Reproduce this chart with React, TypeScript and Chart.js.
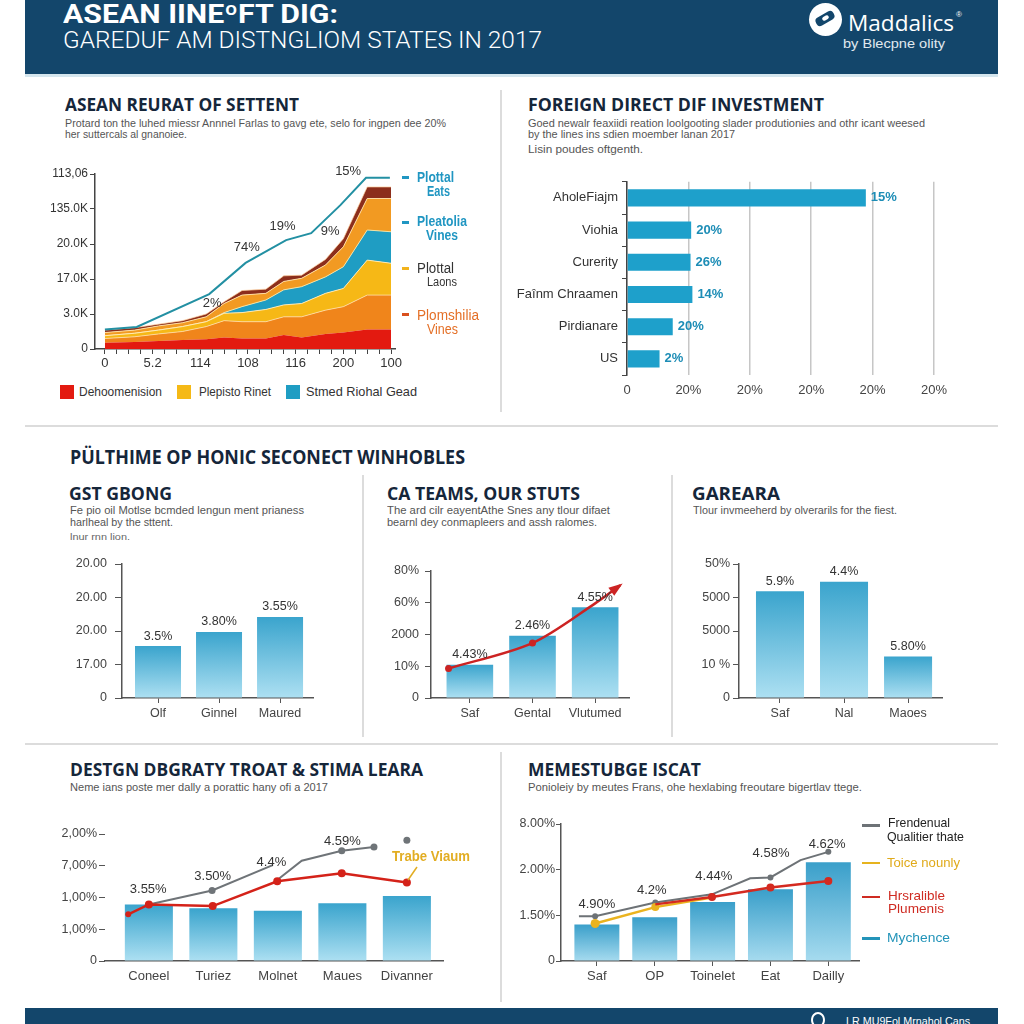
import React, { useEffect, useLayoutEffect, useRef } from 'react';
import { Chart, registerables } from 'chart.js';

Chart.register(...registerables);

const SANS = "'Liberation Sans', Arial, sans-serif";
const HEAD = "'Open Sans', 'Liberation Sans', sans-serif";
Chart.defaults.font.family = SANS;
Chart.defaults.color = '#333';

/* ================= DATA ================= */
// ASEAN REURAT OF SETTENT – stacked areas and trend line
const areaX = [0, 2.5, 4.5, 6.5, 8.5, 10, 11.5, 13.5, 15, 16.5, 18.5, 20, 22, 24];
const areaRed = [0.18, 0.2, 0.23, 0.26, 0.28, 0.33, 0.3, 0.3, 0.4, 0.33, 0.43, 0.47, 0.56, 0.56];
const areaOrange = [0.12, 0.15, 0.2, 0.24, 0.36, 0.48, 0.48, 0.48, 0.52, 0.59, 0.68, 0.74, 0.98, 0.98];
const areaYellow = [0.08, 0.1, 0.11, 0.14, 0.14, 0.21, 0.26, 0.35, 0.34, 0.38, 0.48, 0.52, 1.0, 0.91];
const areaTeal = [0, 0, 0, 0, 0, 0.02, 0.17, 0.27, 0.43, 0.48, 0.47, 0.62, 0.86, 0.9];
const areaAmber = [0.09, 0.09, 0.12, 0.11, 0.14, 0.26, 0.33, 0.19, 0.24, 0.24, 0.34, 0.57, 0.9, 0.95];
const areaBrown = [0.07, 0.07, 0.05, 0.06, 0.08, 0.05, 0.13, 0.12, 0.16, 0.09, 0.16, 0.23, 0.33, 0.33];
const areaLineX = [0, 2.67, 8.75, 11.8, 15.2, 17.3, 19.75, 21.9, 23.9];
const areaLineY = [0.56, 0.63, 1.57, 2.46, 3.11, 3.31, 4.11, 4.89, 4.89];
const areaYTicks = ['0', '3.0K', '17.0K', '20.0K', '135.0K', '113,06'];
const areaXTicks = ['0', '5.2', '114', '108', '116', '200', '100'];
const areaNotes = ['2%', '74%', '19%', '9%', '15%'];
const areaNoteX = [9, 11.9, 14.9, 18.9, 20.4];
const areaNoteY = [1.31, 2.89, 3.49, 3.37, 5.06];
const areaLegend = ['Dehoomenision', 'Plepisto Rinet', 'Stmed Riohal Gead'];

// FOREIGN DIRECT DIF INVESTMENT
const fdiCats = ['AholeFiajm', 'Viohia', 'Curerity', 'Faînm Chraamen', 'Pirdianare', 'US'];
const fdiVals = [77.8, 20.9, 20.7, 21.3, 14.9, 10.6];
const fdiLabels = ['15%', '20%', '26%', '14%', '20%', '2%'];
const fdiTicks = ['0', '20%', '20%', '20%', '20%', '20%'];

// GST GBONG
const gstCats = ['Olf', 'Ginnel', 'Maured'];
const gstVals = [1.55, 1.97, 2.42];
const gstLabels = ['3.5%', '3.80%', '3.55%'];
const gstTicks = ['0', '17.00', '20.00', '20.00', '20.00'];

// CA TEAMS, OUR STUTS
const caCats = ['Saf', 'Gental', 'Vlutumed'];
const caVals = [1.05, 1.96, 2.86];
const caLabels = ['4.43%', '2.46%', '4.55%'];
const caTrendX = [-0.34, 1, 2, 2.4];
const caTrendY = [0.93, 1.73, 2.98, 3.55];
const caTicks = ['0', '10%', '2000', '60%', '80%'];

// GAREARA
const garCats = ['Saf', 'Nal', 'Maoes'];
const garVals = [3.19, 3.47, 1.24];
const garLabels = ['5.9%', '4.4%', '5.80%'];
const garTicks = ['0', '10 %', '5000', '5000', '50%'];

// DESTGN DBGRATY TROAT & STIMA LEARA
const dsgCats = ['Coneel', 'Turiez', 'Molnet', 'Maues', 'Divanner'];
const dsgBars = [1.78, 1.66, 1.58, 1.82, 2.05];
const dsgGrayX = [0, 0.98, 1.92, 1.95, 1.99, 2.37, 2.99, 3.49, 3.75, 4.0];
const dsgGrayY = [1.78, 2.22, 3.02, null, 2.55, 3.16, 3.47, 3.59, null, 3.8];
const dsgRedX = [-0.32, 0, 0.99, 1.99, 2.99, 4.0];
const dsgRedY = [1.47, 1.78, 1.73, 2.51, 2.76, 2.47];
const dsgNotes = ['3.55%', '3.50%', '4.4%', '4.59%'];
const dsgNoteX = [-0.01, 0.99, 1.9, 3.0];
const dsgNoteY = [2.27, 2.66, 3.1, 3.78];
const dsgTicks = ['0', '1,00%', '1,00%', '7,00%', '2,00%'];

// MEMESTUBGE ISCAT
const memCats = ['Saf', 'OP', 'Toinelet', 'Eat', 'Dailly'];
const memBars = [0.8, 0.96, 1.29, 1.57, 2.16];
const memGrayX = [-0.31, -0.03, 1.01, 1.99, 2.65, 3.0, 3.52, 4.0];
const memGrayY = [0.98, 0.98, 1.28, 1.46, 1.81, 1.83, 2.21, 2.39];
const memYellowX = [-0.03, 1.01, 1.99];
const memYellowY = [0.82, 1.18, 1.39];
const memRedX = [1.01, 1.99, 3.0, 4.0];
const memRedY = [1.24, 1.4, 1.61, 1.75];
const memNotes = ['4.90%', '4.2%', '4.44%', '4.58%', '4.62%'];
const memNoteX = [0.0, 0.95, 2.02, 3.01, 3.98];
const memNoteY = [1.24, 1.55, 1.86, 2.36, 2.55];
const memTicks = ['0', '1.50%', '2.00%', '8.00%'];
const memLegend = ['Frendenual', 'Qualitier thate', 'Toice nounly', 'Hrsralible', 'Plumenis', 'Mychence'];

/* ================= HELPERS ================= */
type Box = { left: number; top: number; width: number; height: number };
function plotBox(L: number, R: number, T: number, B: number, yW: number, xH: number, pt: number, pr: number): Box {
  return { left: L - yW, top: T - pt, width: R + pr - (L - yW), height: B + xH - (T - pt) };
}

function pts(xs: number[], ys: (number | null)[]) {
  return xs.map((x, i) => ({ x, y: ys[i] }));
}

function baseOptions(pt: number, pr: number): any {
  return {
    responsive: false,
    animation: false,
    events: [],
    layout: { padding: { top: pt, right: pr, left: 0, bottom: 0 } },
    plugins: { legend: { display: false }, tooltip: { enabled: false }, title: { display: false } },
  };
}

function gradFill(top: string, bottom: string) {
  return (ctx: any) => {
    const ch = ctx.chart;
    const sy = ch.scales && ch.scales.y;
    if (!ch.chartArea || !sy || !ctx.parsed) return top;
    const y0 = sy.getPixelForValue(0);
    const y1 = sy.getPixelForValue(ctx.parsed.y);
    if (!isFinite(y0) || !isFinite(y1) || y0 === y1) return top;
    const g = ch.ctx.createLinearGradient(0, y1, 0, y0);
    g.addColorStop(0, top);
    g.addColorStop(1, bottom);
    return g;
  };
}

function catAxis(cats: string[], min: number, max: number, xH: number, tickLen: number, fontSize: number) {
  return {
    type: 'linear',
    min,
    max,
    offset: false,
    afterBuildTicks: (s: any) => {
      s.ticks = cats.map((_, i) => ({ value: i }));
    },
    ticks: {
      autoSkip: false,
      maxRotation: 0,
      callback: (v: number) => cats[Math.round(v)] ?? '',
      color: '#444',
      font: { size: fontSize },
      padding: tickLen > 0 ? 3 : 8,
    },
    grid: { display: true, offset: false, drawOnChartArea: false, drawTicks: tickLen > 0, tickLength: tickLen, color: '#555' },
    border: { display: true, color: '#555', width: 1.5 },
    afterFit: (s: any) => {
      s.height = xH;
    },
  };
}

function valAxis(labels: string[], yW: number, tickLen: number, pad: number, showBorder: boolean) {
  return {
    type: 'linear',
    min: 0,
    max: labels.length - 1,
    ticks: {
      stepSize: 1,
      callback: (v: number) => labels[Math.round(v)] ?? '',
      color: '#444',
      font: { size: 12.5 },
      padding: pad,
    },
    grid: { display: true, drawOnChartArea: false, drawTicks: true, tickLength: tickLen, color: '#555' },
    border: { display: showBorder, color: '#555', width: 1.5 },
    afterFit: (s: any) => {
      s.width = yW;
    },
  };
}

function notesPlugin(id: string, texts: string[], xs: number[], ys: number[], font: string, color: string) {
  return {
    id,
    afterDatasetsDraw(chart: any) {
      const c = chart.ctx;
      const sx = chart.scales.x;
      const sy = chart.scales.y;
      c.save();
      c.font = font;
      c.fillStyle = color;
      c.textAlign = 'center';
      c.textBaseline = 'middle';
      texts.forEach((t, i) => c.fillText(t, sx.getPixelForValue(xs[i]), sy.getPixelForValue(ys[i])));
      c.restore();
    },
  };
}

function barLabelPlugin(id: string, dsIndex: number, texts: string[], font: string, color: string, horizontal: boolean, gap: number) {
  return {
    id,
    afterDatasetsDraw(chart: any) {
      const c = chart.ctx;
      const meta = chart.getDatasetMeta(dsIndex);
      c.save();
      c.font = font;
      c.fillStyle = color;
      c.textBaseline = 'middle';
      c.textAlign = horizontal ? 'left' : 'center';
      meta.data.forEach((el: any, i: number) => {
        if (horizontal) c.fillText(texts[i], el.x + gap, el.y);
        else c.fillText(texts[i], el.x, el.y - gap);
      });
      c.restore();
    },
  };
}

function arrowPlugin(id: string, dsIndex: number, color: string, len: number, half: number) {
  return {
    id,
    afterDatasetsDraw(chart: any) {
      const meta = chart.getDatasetMeta(dsIndex);
      const n = meta.data.length;
      if (n < 2) return;
      const p = meta.data[n - 1];
      const q = meta.data[n - 2];
      let bx = p.cp1x ?? q.x;
      let by = p.cp1y ?? q.y;
      if (Math.hypot(p.x - bx, p.y - by) < 1) {
        bx = q.x;
        by = q.y;
      }
      const a = Math.atan2(p.y - by, p.x - bx);
      const c = chart.ctx;
      c.save();
      c.fillStyle = color;
      c.beginPath();
      c.moveTo(p.x + Math.cos(a) * 3, p.y + Math.sin(a) * 3);
      c.lineTo(p.x - Math.cos(a) * len + Math.sin(a) * half, p.y - Math.sin(a) * len - Math.cos(a) * half);
      c.lineTo(p.x - Math.cos(a) * len - Math.sin(a) * half, p.y - Math.sin(a) * len + Math.cos(a) * half);
      c.closePath();
      c.fill();
      c.restore();
    },
  };
}

function ChartCanvas({ box, make }: { box: Box; make: () => any }) {
  const ref = useRef<HTMLCanvasElement>(null);
  useEffect(() => {
    const chart = new Chart(ref.current as HTMLCanvasElement, make());
    return () => chart.destroy();
  }, []);
  return (
    <canvas
      ref={ref}
      width={box.width}
      height={box.height}
      style={{ position: 'absolute', left: box.left, top: box.top, width: box.width, height: box.height }}
    />
  );
}

function Txt({ x, y, s, size, weight = 400, color = '#333', family = SANS, w }: any) {
  const ref = useRef<HTMLDivElement>(null);
  useLayoutEffect(() => {
    const el = ref.current;
    if (!el || !w) return;
    el.style.transform = 'none';
    const nat = el.getBoundingClientRect().width;
    if (nat > 0) el.style.transform = `scaleX(${w / nat})`;
  }, [w, s]);
  const lh = Math.round(size * 1.25);
  return (
    <div
      ref={ref}
      style={{
        position: 'absolute',
        left: x,
        top: y - lh / 2,
        fontSize: size,
        lineHeight: `${lh}px`,
        fontWeight: weight,
        color,
        fontFamily: family,
        whiteSpace: 'nowrap',
        transformOrigin: '0 50%',
      }}
    >
      {s}
    </div>
  );
}

function Rect({ x, y, w, h, c, r = 0 }: any) {
  return <div style={{ position: 'absolute', left: x, top: y, width: w, height: h, background: c, borderRadius: r }} />;
}

/* ================= CHART CONFIGS ================= */
const BAR_TOP = '#3aa4cd';
const BAR_BOT = '#ade0f2';

function areaConfig() {
  const layers = [areaRed, areaOrange, areaYellow, areaTeal, areaAmber, areaBrown];
  const fills = ['#e31a10', '#f0851b', '#f6b816', '#1f9dc3', '#f29a22', '#8c2e1c'];
  const edges = ['rgba(0,0,0,0)', 'rgba(255,225,170,0.8)', 'rgba(255,236,190,0.9)', 'rgba(255,230,160,0.9)', 'rgba(255,226,170,0.9)', 'rgba(255,210,160,0.7)'];
  const datasets: any[] = [
    {
      type: 'line',
      stack: 'trend',
      data: pts(areaLineX, areaLineY),
      borderColor: '#2390a3',
      borderWidth: 2,
      pointRadius: 0,
      fill: false,
      tension: 0,
    },
  ];
  layers.forEach((arr, k) => {
    datasets.push({
      type: 'line',
      stack: 'area',
      data: pts(areaX, arr),
      backgroundColor: fills[k],
      borderColor: edges[k],
      borderWidth: 1,
      pointRadius: 0,
      fill: k === 0 ? 'origin' : '-1',
      tension: 0,
    });
  });
  const opts = baseOptions(14, 6);
  opts.scales = {
    x: {
      type: 'linear',
      min: -0.83,
      max: 24.4,
      offset: false,
      afterBuildTicks: (s: any) => {
        s.ticks = Array.from({ length: 25 }, (_, i) => ({ value: i }));
      },
      ticks: {
        autoSkip: false,
        maxRotation: 0,
        callback: (v: number) => (Math.round(v) % 4 === 0 ? areaXTicks[Math.round(v) / 4] : ''),
        color: '#333',
        font: { size: 13 },
        padding: 2,
      },
      grid: { display: true, drawOnChartArea: false, drawTicks: true, tickLength: 5, color: '#444' },
      border: { display: true, color: '#444', width: 1.5 },
      afterFit: (s: any) => {
        s.height = 22;
      },
    },
    y: {
      type: 'linear',
      stacked: true,
      min: 0,
      max: 5,
      ticks: { stepSize: 1, callback: (v: number) => areaYTicks[Math.round(v)] ?? '', color: '#333', font: { size: 12 }, padding: 2 },
      grid: { display: true, drawOnChartArea: false, drawTicks: true, tickLength: 5, color: '#444' },
      border: { display: true, color: '#444', width: 1.5 },
      afterFit: (s: any) => {
        s.width = 45;
      },
    },
  };
  return {
    type: 'line',
    data: { datasets },
    options: opts,
    plugins: [notesPlugin('areaNotes', areaNotes, areaNoteX, areaNoteY, `13px ${SANS}`, '#333')],
  };
}

function fdiConfig() {
  const opts = baseOptions(5, 30);
  opts.indexAxis = 'y';
  opts.scales = {
    x: {
      type: 'linear',
      min: 0,
      max: 100,
      ticks: { stepSize: 20, callback: (_v: number, i: number) => fdiTicks[i] ?? '', color: '#444', font: { size: 13 }, padding: 8 },
      grid: { display: true, drawTicks: false, color: '#c6c6c6', lineWidth: 1.5 },
      border: { display: false },
      afterFit: (s: any) => {
        s.height = 25;
      },
    },
    y: {
      ticks: { color: '#333', font: { size: 13 }, padding: 4 },
      grid: { display: true, offset: true, drawOnChartArea: false, drawTicks: true, tickLength: 5, color: '#444' },
      border: { display: true, color: '#444', width: 1.5 },
      afterFit: (s: any) => {
        s.width = 120;
      },
    },
  };
  return {
    type: 'bar',
    data: {
      labels: fdiCats,
      datasets: [{ data: fdiVals, backgroundColor: '#1ea0cb', barPercentage: 0.53, categoryPercentage: 1 }],
    },
    options: opts,
    plugins: [barLabelPlugin('fdiLabels', 0, fdiLabels, `bold 13px ${SANS}`, '#1d8db6', true, 5)],
  };
}

function simpleBarConfig(cats: string[], vals: number[], labels: string[], ticks: string[], min: number, max: number, barPct: number, yW: number, tickLen: number, pad: number, extra: any[], extraPlugins: any[]) {
  const opts = baseOptions(17, 8);
  opts.scales = {
    x: catAxis(cats, min, max, 26, 5, 12.5),
    y: valAxis(ticks, yW, tickLen, pad, true),
  };
  return {
    type: 'bar',
    data: {
      datasets: [
        ...extra,
        {
          type: 'bar',
          order: 10,
          data: pts(cats.map((_, i) => i), vals),
          backgroundColor: gradFill(BAR_TOP, BAR_BOT),
          barPercentage: barPct,
          categoryPercentage: 1,
        },
      ],
    },
    options: opts,
    plugins: [barLabelPlugin('lbl' + cats[0] + cats[1], extra.length, labels, `12.5px ${SANS}`, '#333', false, 10), ...extraPlugins],
  };
}

function dsgConfig() {
  const opts = baseOptions(12, 10);
  opts.scales = {
    x: catAxis(dsgCats, -0.68, 4.56, 28, 0, 13),
    y: valAxis(dsgTicks, 55, 6, 2, false),
  };
  return {
    type: 'bar',
    data: {
      datasets: [
        {
          type: 'line',
          order: 1,
          data: pts(dsgRedX, dsgRedY),
          borderColor: '#d42219',
          borderWidth: 2.5,
          pointRadius: [3, 4, 4, 4, 4, 4],
          pointBackgroundColor: '#d42219',
          pointBorderWidth: 0,
          fill: false,
          tension: 0,
        },
        {
          type: 'line',
          order: 2,
          data: pts(dsgGrayX, dsgGrayY),
          borderColor: '#6f7478',
          borderWidth: 2,
          pointRadius: [0, 3.5, 0, 0, 0, 0, 3.5, 3.5, 0, 3.5],
          pointBackgroundColor: '#6f7478',
          pointBorderWidth: 0,
          spanGaps: false,
          fill: false,
          tension: 0,
        },
        {
          type: 'bar',
          order: 10,
          data: pts(dsgCats.map((_, i) => i), dsgBars),
          backgroundColor: gradFill(BAR_TOP, BAR_BOT),
          barPercentage: 0.745,
          categoryPercentage: 1,
        },
      ],
    },
    options: opts,
    plugins: [notesPlugin('dsgNotes', dsgNotes, dsgNoteX, dsgNoteY, `13px ${SANS}`, '#333')],
  };
}

function memConfig() {
  const opts = baseOptions(12, 6);
  opts.scales = {
    x: catAxis(memCats, -0.62, 4.53, 28, 5, 13),
    y: valAxis(memTicks, 50, 5, 1, true),
  };
  const line = (xs: number[], ys: number[], color: string, w: number, radius: number[], order: number) => ({
    type: 'line',
    order,
    data: pts(xs, ys),
    borderColor: color,
    borderWidth: w,
    pointRadius: radius,
    pointBackgroundColor: color,
    pointBorderWidth: 0,
    fill: false,
    tension: 0,
  });
  return {
    type: 'bar',
    data: {
      datasets: [
        line(memRedX, memRedY, '#d42a20', 2.5, [0, 4, 4, 4], 1),
        line(memYellowX, memYellowY, '#eab31f', 2.5, [4.5, 4, 0], 2),
        line(memGrayX, memGrayY, '#6d7276', 2, [0, 3, 3, 0, 0, 3, 0, 3], 3),
        {
          type: 'bar',
          order: 10,
          data: pts(memCats.map((_, i) => i), memBars),
          backgroundColor: gradFill('#3a9fca', '#a6dbef'),
          barPercentage: 0.777,
          categoryPercentage: 1,
        },
      ],
    },
    options: opts,
    plugins: [notesPlugin('memNotes', memNotes, memNoteX, memNoteY, `13px ${SANS}`, '#333')],
  };
}

/* ================= BOXES ================= */
const boxArea = plotBox(95, 398, 174, 349, 45, 22, 14, 6);
const boxFdi = plotBox(627, 934, 175, 375, 120, 25, 5, 30);
const boxGst = plotBox(122, 313, 564, 698, 60, 26, 17, 8);
const boxCa = plotBox(431, 629, 571, 698, 60, 26, 17, 8);
const boxGar = plotBox(739, 942, 564, 698, 50, 26, 17, 8);
const boxDsg = plotBox(105, 443, 834, 961, 55, 28, 12, 10);
const boxMem = plotBox(561, 859, 824, 961, 50, 28, 12, 6);

const NAVY = '#13466b';
const TITLE = '#15263a';
const SUB = '#555';

export default function App() {
  return (
    <div style={{ position: 'absolute', left: 0, top: 0, width: 1024, height: 1024, background: '#fff', overflow: 'hidden', fontFamily: SANS }}>
      {/* header */}
      <Rect x={25} y={0} w={973} h={74} c={NAVY} />
      <Rect x={25} y={74} w={973} h={3} c="#d5e6ee" />
      <Txt x={63} y={14} s="ASEAN IINEºFT DIG:" size={26} weight={700} color="#fff" family="Roboto, sans-serif" w={275} />
      <Txt x={63} y={40} s="GAREDUF AM DISTNGLIOM STATES IN 2017" size={23} weight={300} color="#fff" family="Roboto, sans-serif" w={479} />
      <div style={{ position: 'absolute', left: 809, top: 3, width: 33, height: 33, borderRadius: '50%', background: '#fff' }} />
      <div style={{ position: 'absolute', left: 815, top: 14, width: 20, height: 9, borderRadius: 4, background: NAVY, transform: 'rotate(-30deg)' }} />
      <div style={{ position: 'absolute', left: 822, top: 16, width: 7, height: 4, borderRadius: 2, background: '#fff', transform: 'rotate(-30deg)' }} />
      <Txt x={848} y={22} s="Maddalics" size={22} color="#fff" family={HEAD} w={106} />
      <Txt x={956} y={15} s="®" size={8} color="#fff" />
      <Txt x={843} y={44} s="by Blecpne olity" size={13} color="#e0e9ef" w={102} />

      {/* dividers */}
      <Rect x={500} y={90} w={1.5} h={322} c="#dcdcdc" />
      <Rect x={25} y={425} w={973} h={1.5} c="#dcdcdc" />
      <Rect x={362} y={475} w={1.5} h={262} c="#dcdcdc" />
      <Rect x={671} y={475} w={1.5} h={262} c="#dcdcdc" />
      <Rect x={25} y={743} w={973} h={1.5} c="#dcdcdc" />
      <Rect x={500} y={752} w={1.5} h={250} c="#dcdcdc" />

      {/* section 1 left */}
      <Txt x={65} y={104} s="ASEAN REURAT OF SETTENT" size={17} weight={700} color={TITLE} family={HEAD} w={234} />
      <Txt x={65} y={123} s="Protard ton the luhed miessr Annnel Farlas to gavg ete, selo for ingpen dee 20%" size={11.5} color={SUB} w={381} />
      <Txt x={65} y={134} s="her suttercals al gnanoiee." size={11.5} color={SUB} w={122} />
      <ChartCanvas box={boxArea} make={areaConfig} />
      <Rect x={402} y={176} w={7} h={2.5} c="#2096c2" />
      <Txt x={417} y={177} s="Plottal" size={14} weight={600} color="#2096c2" w={37} />
      <Txt x={427} y={191} s="Eats" size={14} weight={600} color="#2096c2" w={23} />
      <Rect x={402} y={221} w={7} h={2.5} c="#2096c2" />
      <Txt x={417} y={221} s="Pleatolia" size={14} weight={600} color="#2096c2" w={50} />
      <Txt x={426} y={235} s="Vines" size={14} weight={600} color="#2096c2" w={32} />
      <Rect x={402} y={267} w={7} h={2.5} c="#f2b31c" />
      <Txt x={417} y={268} s="Plottal" size={14} color="#333" w={37} />
      <Txt x={427} y={282} s="Laons" size={12.5} color="#333" w={30} />
      <Rect x={402} y={313} w={7} h={2.5} c="#d9501e" />
      <Txt x={417} y={315} s="Plomshilia" size={14} color="#e46f26" w={62} />
      <Txt x={427} y={329} s="Vines" size={14} color="#e46f26" w={31} />
      <Rect x={60} y={385} w={14} h={14} c="#e31a10" />
      <Txt x={79} y={392} s={areaLegend[0]} size={13} color="#333" w={83} />
      <Rect x={177} y={385} w={14} h={14} c="#f5b916" />
      <Txt x={199} y={392} s={areaLegend[1]} size={13} color="#333" w={72} />
      <Rect x={286} y={385} w={14} h={14} c="#1f9dc3" />
      <Txt x={306} y={392} s={areaLegend[2]} size={13} color="#333" w={111} />

      {/* section 1 right */}
      <Txt x={528} y={104} s="FOREIGN DIRECT DIF INVESTMENT" size={17} weight={700} color={TITLE} family={HEAD} w={296} />
      <Txt x={528} y={123} s="Goed newalr feaxiidi reation loolgooting slader produtionies and othr icant weesed" size={11.5} color={SUB} w={397} />
      <Txt x={528} y={134} s="by the lines ins sdien moember lanan 2017" size={11.5} color={SUB} w={207} />
      <Txt x={528} y={149} s="Lisin poudes oftgenth." size={11.5} color={SUB} w={115} />
      <ChartCanvas box={boxFdi} make={fdiConfig} />

      {/* middle section */}
      <Txt x={70} y={457} s="PÜLTHIME OP HONIC SECONECT WINHOBLES" size={19} weight={700} color={TITLE} family={HEAD} w={395} />
      <Txt x={69} y={493} s="GST GBONG" size={18} weight={700} color={TITLE} family={HEAD} w={103} />
      <Txt x={70} y={510} s="Fe pio oil Motlse bcmded lengun ment prianess" size={11.5} color={SUB} w={234} />
      <Txt x={70} y={522} s="harlheal by the sttent." size={11.5} color={SUB} w={103} />
      <Txt x={70} y={537} s="lnur rnn lion." size={8.5} color="#666" w={60} />
      <ChartCanvas box={boxGst} make={() => simpleBarConfig(gstCats, gstVals, gstLabels, gstTicks, -0.59, 2.54, 0.754, 60, 7, 8, [], [])} />

      <Txt x={387} y={493} s="CA TEAMS, OUR STUTS" size={18} weight={700} color={TITLE} family={HEAD} w={193} />
      <Txt x={387} y={510} s="The ard cilr eayentAthe Snes any tlour difaet" size={11.5} color={SUB} w={223} />
      <Txt x={387} y={522} s="bearnl dey conmapleers and assh ralomes." size={11.5} color={SUB} w={210} />
      <ChartCanvas
        box={boxCa}
        make={() =>
          simpleBarConfig(
            caCats,
            caVals,
            caLabels,
            caTicks,
            -0.62,
            2.54,
            0.744,
            60,
            6,
            6,
            [
              {
                type: 'line',
                order: 1,
                data: pts(caTrendX, caTrendY),
                borderColor: '#cc2323',
                borderWidth: 2.5,
                pointRadius: [3.5, 3.5, 0, 0],
                pointBackgroundColor: '#cc2323',
                pointBorderWidth: 0,
                fill: false,
                tension: 0.3,
              },
            ],
            [arrowPlugin('caArrow', 0, '#cc2323', 11, 5)]
          )
        }
      />

      <Txt x={692} y={493} s="GAREARA" size={18} weight={700} color={TITLE} family={HEAD} w={88} />
      <Txt x={693} y={510} s="Tlour invmeeherd by olverarils for the fiest." size={11.5} color={SUB} w={204} />
      <ChartCanvas box={boxGar} make={() => simpleBarConfig(garCats, garVals, garLabels, garTicks, -0.64, 2.53, 0.75, 50, 6, 3, [], [])} />

      {/* bottom left */}
      <Txt x={70} y={769} s="DESTGN DBGRATY TROAT & STIMA LEARA" size={17} weight={700} color={TITLE} family={HEAD} w={353} />
      <Txt x={70} y={787} s="Neme ians poste mer dally a porattic hany ofi a 2017" size={11.5} color={SUB} w={258} />
      <ChartCanvas box={boxDsg} make={dsgConfig} />
      <Txt x={392} y={856} s="Trabe Viaum" size={14} weight={700} color="#e2ad22" w={78} />
      <svg style={{ position: 'absolute', left: 400, top: 860, width: 24, height: 26 }} width={24} height={26}>
        <line x1={8} y1={20} x2={17} y2={7} stroke="#e2ad22" strokeWidth={1.5} />
      </svg>

      {/* bottom right */}
      <Txt x={528} y={769} s="MEMESTUBGE ISCAT" size={17} weight={700} color={TITLE} family={HEAD} w={173} />
      <Txt x={528} y={787} s="Ponioleiy by meutes Frans, ohe hexlabing freoutare bigertlav ttege." size={11.5} color={SUB} w={334} />
      <ChartCanvas box={boxMem} make={memConfig} />
      <Rect x={862} y={824} w={18} h={2.5} c="#6d7276" />
      <Txt x={888} y={823} s={memLegend[0]} size={13} color="#222" w={62} />
      <Txt x={887} y={837} s={memLegend[1]} size={13} color="#222" w={77} />
      <Rect x={862} y={861.5} w={18} h={2.5} c="#e6b31e" />
      <Txt x={887} y={863} s={memLegend[2]} size={13} color="#e0aa1a" w={73} />
      <Rect x={862} y={895.5} w={18} h={2.5} c="#cf2b22" />
      <Txt x={888} y={896} s={memLegend[3]} size={13} color="#cf2b22" w={57} />
      <Txt x={888} y={909} s={memLegend[4]} size={13} color="#cf2b22" w={56} />
      <Rect x={862} y={937} w={18} h={2.5} c="#2394b9" />
      <Txt x={887} y={938} s={memLegend[5]} size={13} color="#2394b9" w={63} />

      {/* footer */}
      <Rect x={25} y={1008} w={973} h={16} c={NAVY} />
      <div style={{ position: 'absolute', left: 811, top: 1012, width: 10, height: 12, borderRadius: '50%', border: '2px solid #fff' }} />
      <Txt x={846} y={1021} s="LR MU9Fol Mrnahol Cans" size={11} color="#fff" w={124} />
    </div>
  );
}
